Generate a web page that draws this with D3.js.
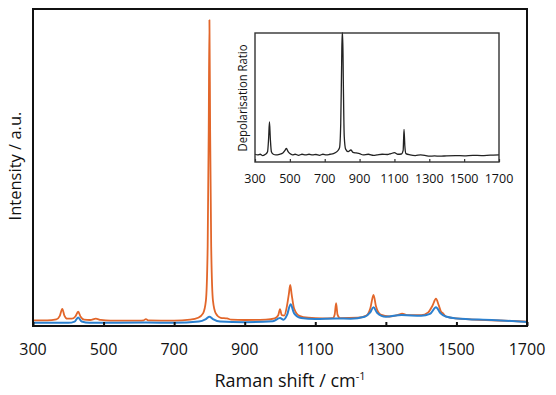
<!DOCTYPE html>
<html>
<head>
<meta charset="utf-8">
<script src="https://cdn.jsdelivr.net/npm/d3@7"></script>
<style>
  body { margin: 0; background: #fff; }
  text { font-family: "Open Sans", "Noto Sans", sans-serif; fill: #111; font-weight: 500; }
</style>
</head>
<body>
<div id="chart"></div>
<script>
// Raman spectra: [wavenumber cm-1, intensity a.u.]
const parallelSpectrum = [
  [300,1.8],[340,1.8],[366,2.1],[376,3.2],[383,5.4],[389,3.3],[397,2.3],[410,2.3],[420,3.0],
  [428,4.5],[435,2.9],[445,2.0],[462,1.9],[478,2.3],[492,1.9],[520,1.7],[600,1.7],[614,1.8],
  [620,2.2],[626,1.8],[700,1.7],[745,2.0],[768,2.6],[782,4.0],[790,8],[795,25],[798,62],
  [800,96.5],[802,62],[805,25],[810,8],[818,4.0],[832,2.6],[850,2.4],[862,2.0],[900,1.9],
  [960,2.0],[985,2.4],[995,3.4],[1000,5.3],[1005,3.4],[1012,3.3],[1020,6.5],[1025,10],
  [1029,13],[1033,10],[1040,5.5],[1055,3.2],[1080,2.6],[1120,2.4],[1150,2.5],[1155,3.6],
  [1159,7.2],[1163,3.6],[1170,2.5],[1220,2.6],[1245,3.3],[1256,5.6],[1265,9.8],[1272,6.2],
  [1285,3.6],[1310,3.0],[1335,3.5],[1346,3.9],[1360,3.4],[1400,3.4],[1420,4.3],[1432,6.4],
  [1442,8.6],[1450,6.5],[1456,4.6],[1462,4.0],[1470,3.0],[1500,2.4],[1550,2.0],[1600,1.8],
  [1650,1.6],[1700,1.4]
];

const perpendicularSpectrum = [
  [300,1.0],[400,1.0],[418,1.4],[428,2.7],[438,1.4],[460,1.0],[620,1.1],[700,1.0],[770,1.4],
  [790,2.2],[800,2.9],[810,2.2],[830,1.4],[900,1.2],[980,1.5],[1000,2.5],[1010,2.0],
  [1020,3.5],[1030,6.9],[1040,4.0],[1060,2.5],[1100,2.2],[1160,2.4],[1200,2.3],[1240,2.9],
  [1255,4.2],[1265,5.9],[1275,4.2],[1300,2.9],[1345,3.5],[1400,3.2],[1425,3.8],[1442,5.9],
  [1455,4.0],[1470,3.0],[1500,2.4],[1600,1.9],[1700,1.3]
];

// inset: depolarisation ratio
const depolRatio = [
  [300,0.06],[315,0.055],[330,0.06],[345,0.05],[360,0.06],[372,0.08],[378,0.18],[383,0.31],
  [388,0.18],[394,0.08],[405,0.06],[420,0.055],[440,0.06],[460,0.07],[472,0.09],[480,0.105],
  [490,0.08],[500,0.065],[515,0.055],[530,0.06],[550,0.052],[570,0.06],[590,0.055],[610,0.06],
  [630,0.055],[650,0.058],[670,0.052],[690,0.06],[710,0.055],[730,0.06],[750,0.065],
  [770,0.08],[785,0.11],[792,0.3],[797,0.75],[800,1.0],[803,1.0],[807,0.6],[812,0.2],
  [820,0.1],[835,0.08],[850,0.093],[862,0.075],[880,0.07],[900,0.065],[920,0.055],
  [950,0.06],[980,0.052],[1000,0.055],[1030,0.06],[1060,0.058],[1080,0.065],[1100,0.072],
  [1120,0.06],[1140,0.062],[1150,0.09],[1155,0.253],[1160,0.12],[1166,0.065],[1190,0.055],
  [1220,0.05],[1250,0.055],[1280,0.05],[1300,0.045],[1330,0.047],[1360,0.045],[1400,0.048],
  [1450,0.05],[1500,0.048],[1550,0.052],[1600,0.05],[1650,0.053],[1700,0.055]
];

const xTicks = [300, 500, 700, 900, 1100, 1300, 1500, 1700];

const width = 556, height = 395;
const svg = d3.select("#chart").append("svg")
  .attr("width", width)
  .attr("height", height);

// main plot area
const x = d3.scaleLinear().domain([300, 1700]).range([33, 527]);
const y = d3.scaleLinear().domain([0, 100]).range([326, 9]);

const line = d3.line()
  .x(d => x(d[0]))
  .y(d => y(d[1]))
  .curve(d3.curveMonotoneX);

svg.append("path")
  .datum(parallelSpectrum)
  .attr("fill", "none")
  .attr("stroke", "#e2662a")
  .attr("stroke-width", 1.8)
  .attr("stroke-linejoin", "round")
  .attr("d", line);

svg.append("path")
  .datum(perpendicularSpectrum)
  .attr("fill", "none")
  .attr("stroke", "#2b80cf")
  .attr("stroke-width", 2)
  .attr("stroke-linejoin", "round")
  .attr("d", line);

// x axis: ticks pointing inwards, labels drawn separately
const xAxis = svg.append("g")
  .attr("transform", `translate(0,${y.range()[0]})`)
  .call(d3.axisBottom(x).tickValues(xTicks).tickSizeInner(-4).tickSizeOuter(0).tickFormat(""));
xAxis.select(".domain").remove();
xAxis.selectAll(".tick line").attr("stroke", "#111").attr("stroke-width", 2);

svg.append("g")
  .selectAll("text")
  .data(xTicks)
  .join("text")
  .attr("x", d => x(d))
  .attr("y", 355)
  .attr("text-anchor", "middle")
  .attr("font-size", 16)
  .text(d => d);

// frame
svg.append("rect")
  .attr("x", x.range()[0])
  .attr("y", y.range()[1])
  .attr("width", x.range()[1] - x.range()[0])
  .attr("height", y.range()[0] - y.range()[1])
  .attr("fill", "none")
  .attr("stroke", "#111")
  .attr("stroke-width", 2);

// axis titles
const xTitle = svg.append("text")
  .attr("x", 290)
  .attr("y", 387)
  .attr("text-anchor", "middle")
  .attr("font-size", 18);
xTitle.append("tspan").text("Raman shift / cm");
xTitle.append("tspan").attr("dy", -7).attr("font-size", 11).text("-1");

svg.append("text")
  .attr("transform", "translate(21,166) rotate(-90)")
  .attr("text-anchor", "middle")
  .attr("font-size", 16.5)
  .text("Intensity / a.u.");

// inset
const xi = d3.scaleLinear().domain([300, 1700]).range([255, 499]);
const yi = d3.scaleLinear().domain([0, 1]).range([162, 33]);

const insetLine = d3.line()
  .x(d => xi(d[0]))
  .y(d => yi(d[1]))
  .curve(d3.curveMonotoneX);

svg.append("rect")
  .attr("x", 255).attr("y", 33)
  .attr("width", 244).attr("height", 129)
  .attr("fill", "#fff");

svg.append("path")
  .datum(depolRatio)
  .attr("fill", "none")
  .attr("stroke", "#222")
  .attr("stroke-width", 1.3)
  .attr("d", insetLine);

const xiAxis = svg.append("g")
  .attr("transform", `translate(0,${yi.range()[0]})`)
  .call(d3.axisBottom(xi).tickValues(xTicks).tickSizeInner(-3).tickSizeOuter(0).tickFormat(""));
xiAxis.select(".domain").remove();
xiAxis.selectAll(".tick line").attr("stroke", "#333").attr("stroke-width", 1.2);

svg.append("rect")
  .attr("x", xi.range()[0])
  .attr("y", yi.range()[1])
  .attr("width", xi.range()[1] - xi.range()[0])
  .attr("height", yi.range()[0] - yi.range()[1])
  .attr("fill", "none")
  .attr("stroke", "#333")
  .attr("stroke-width", 1.4);

svg.append("g")
  .selectAll("text")
  .data(xTicks)
  .join("text")
  .attr("x", d => xi(d))
  .attr("y", 183)
  .attr("text-anchor", "middle")
  .attr("font-size", 12.5)
  .text(d => d);

svg.append("text")
  .attr("transform", "translate(247,98) rotate(-90)")
  .attr("text-anchor", "middle")
  .attr("font-size", 12)
  .attr("font-weight", 600)
  .attr("textLength", 107)
  .attr("lengthAdjust", "spacingAndGlyphs")
  .text("Depolarisation Ratio");
</script>
</body>
</html>
